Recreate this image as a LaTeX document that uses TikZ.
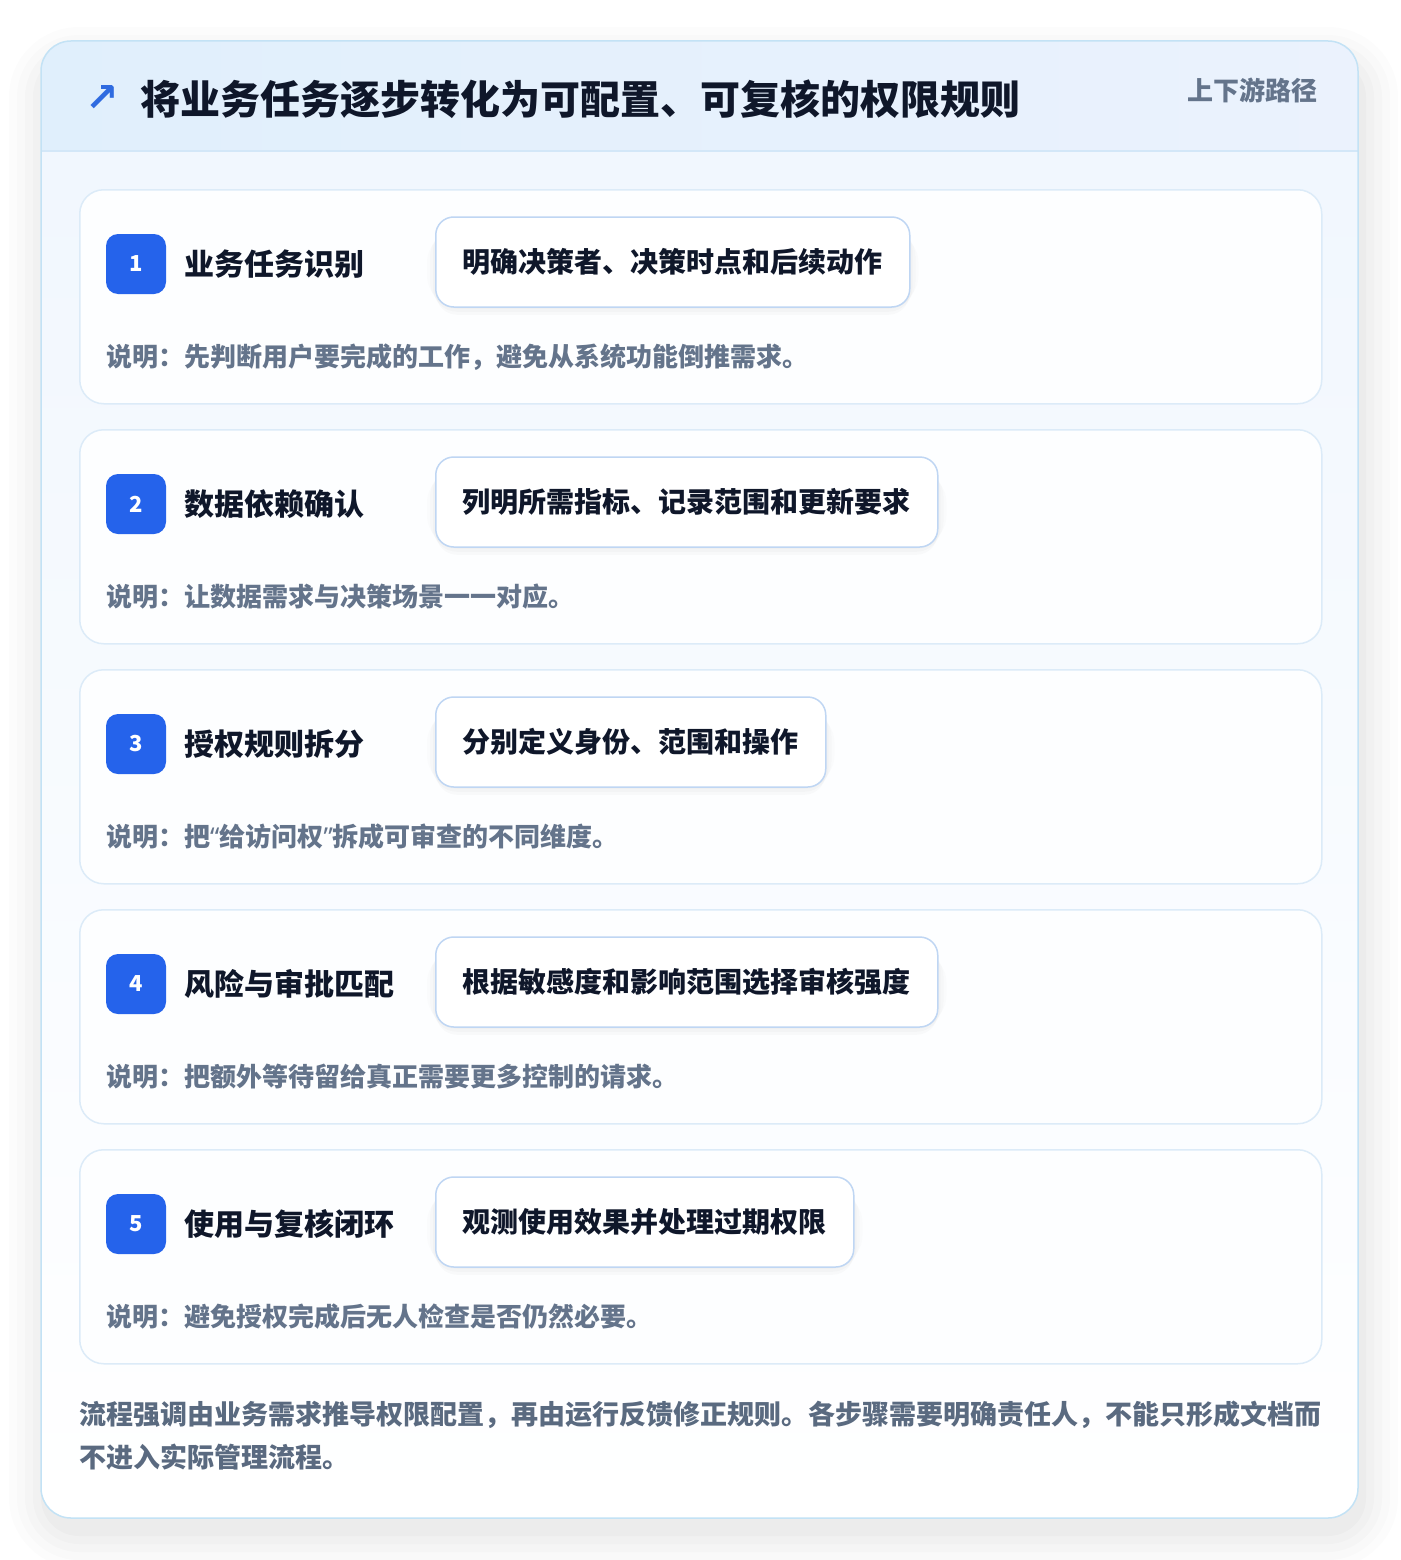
\documentclass[tikz,border=0pt]{standalone}
\usepackage{fontspec}
\setmainfont{Noto Sans CJK SC}
\newfontfamily\symfont{DejaVu Sans}
\newfontfamily\latinfont{Noto Sans}
\definecolor{pageback}{HTML}{FFFFFF}
\definecolor{outerborder}{HTML}{C3E2F5}
\definecolor{headleft}{HTML}{E0EFFC}
\definecolor{headright}{HTML}{EBF2FD}
\definecolor{headline}{HTML}{D3E7F8}
\definecolor{bodytop}{HTML}{F1F7FE}
\definecolor{cardborder}{HTML}{DCEBF8}
\definecolor{cardfill}{HTML}{FDFEFF}
\definecolor{badgeblue}{HTML}{2563EB}
\definecolor{darktext}{HTML}{0F172A}
\definecolor{graytext}{HTML}{64748B}
\definecolor{foottext}{HTML}{5A6A80}
\definecolor{pillborder}{HTML}{BFD6F3}
\definecolor{iconblue}{HTML}{2F6BE0}
\newcommand{\myopenq}{{\latinfont\bfseries “}}
\newcommand{\mycloseq}{{\latinfont\bfseries ”}}
\tikzset{
  cardbox/.style={draw=cardborder, line width=1.5pt, fill=cardfill, rounded corners=24pt, inner sep=0pt, anchor=north west, minimum width=1242pt, minimum height=214pt},
  badgebox/.style={fill=badgeblue, rounded corners=12pt, minimum width=60pt, minimum height=60pt, inner sep=0pt, text=white, font=\bfseries\fontsize{22}{26}\selectfont},
  steptitle/.style={anchor=west, inner sep=0pt, text=darktext, font=\bfseries\fontsize{30}{36}\selectfont},
  pillbox/.style={anchor=west, draw=pillborder, line width=1.5pt, fill=white, rounded corners=18pt, minimum height=90pt, inner xsep=27pt, inner ysep=0pt, text=darktext, font=\bfseries\fontsize{28}{34}\selectfont},
  desctext/.style={anchor=west, inner sep=0pt, text=graytext, font=\bfseries\fontsize{26}{30}\selectfont},
  foottxt/.style={anchor=west, inner sep=0pt, text=foottext, font=\bfseries\fontsize{27}{34}\selectfont},
}
\begin{document}
\begin{tikzpicture}[x=1pt,y=-1pt]
\useasboundingbox (0,0) rectangle (1400,1560);
\fill[pageback] (0,0) rectangle (1400,1560);
% outer shadow
\foreach \e/\o in {40/0.010,32/0.012,24/0.014,16/0.016,8/0.018}{
  \fill[black, opacity=\o, rounded corners=30pt+\e pt] (41-\e+8,41-\e+26) rectangle (1358+\e,1518+\e+10);
}
\fill[white, rounded corners=30pt] (41,41) rectangle (1358,1518);
\begin{scope}
  \clip[rounded corners=30pt] (41,41) rectangle (1358,1518);
  \shade[top color=bodytop, bottom color=white] (41,151) rectangle (1358,1518);
  \shade[left color=headleft, right color=headright] (41,41) rectangle (1358,151);
  \draw[headline, line width=1.5pt] (41,151) -- (1358,151);
\end{scope}
\draw[outerborder, line width=1.5pt, rounded corners=30pt] (41,41) rectangle (1358,1518);
% header
\node[anchor=center, inner sep=0pt, text=iconblue, font=\symfont\bfseries\fontsize{40}{46}\selectfont] (icon) at (102,99) {↗};
\node[anchor=west, inner sep=0pt, text=darktext, font=\bfseries\fontsize{40}{48}\selectfont] (title) at (140,99) {将业务任务逐步转化为可配置、可复核的权限规则};
\node[anchor=east, inner sep=0pt, text=graytext, font=\bfseries\fontsize{26}{30}\selectfont] (route) at (1318,90) {上下游路径};
% steps
\foreach \i/\t/\p/\d in {
  1/业务任务识别/明确决策者、决策时点和后续动作/说明：先判断用户要完成的工作，避免从系统功能倒推需求。,
  2/数据依赖确认/列明所需指标、记录范围和更新要求/说明：让数据需求与决策场景一一对应。,
  3/授权规则拆分/分别定义身份、范围和操作/说明：把\myopenq 给访问权\mycloseq 拆成可审查的不同维度。,
  4/风险与审批匹配/根据敏感度和影响范围选择审核强度/说明：把额外等待留给真正需要更多控制的请求。,
  5/使用与复核闭环/观测使用效果并处理过期权限/说明：避免授权完成后无人检查是否仍然必要。}{
  \pgfmathsetmacro{\top}{189+(\i-1)*240}
  \node[cardbox] (card\i) at (79,\top) {};
  \node[badgebox] (badge\i) at (136,\top+75) {\i};
  \node[steptitle] (stitle\i) at (184,\top+75) {\t};
  % pill shadow
  \path (435,\top+73) node[pillbox, draw=none, fill=none, text=white, opacity=0] (pillghost\i) {\p};
  \foreach \e/\o in {12/0.010,9/0.014,6/0.018,3/0.02}{
    \fill[black, opacity=\o, rounded corners=18pt+\e pt] ([xshift=-\e pt+4pt, yshift=\e pt-10pt]pillghost\i.south west) rectangle ([xshift=\e pt-4pt, yshift=-\e pt-4pt]pillghost\i.north east);
  }
  \node[pillbox] (pill\i) at (435,\top+73) {\p};
  \node[desctext] (desc\i) at (106,\top+168) {\d};
}
% footer
\node[foottxt] (foot1) at (79,1415) {流程强调由业务需求推导权限配置，再由运行反馈修正规则。各步骤需要明确责任人，不能只形成文档而};
\node[foottxt] (foot2) at (79,1457) {不进入实际管理流程。};
\end{tikzpicture}
\end{document}
